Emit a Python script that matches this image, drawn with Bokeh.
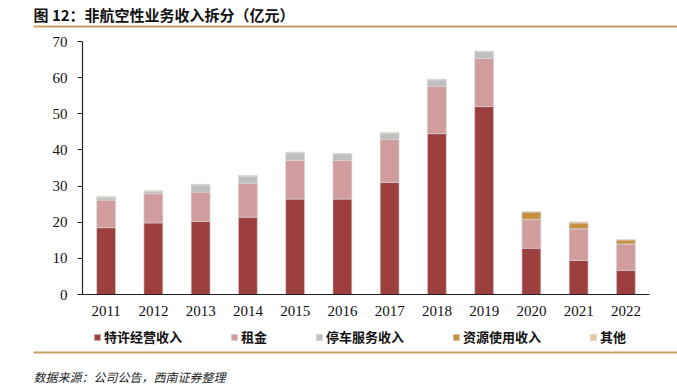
from bokeh.plotting import figure
from bokeh.models import (Range1d, Label, BoxAnnotation, Legend, LegendItem, LinearAxis,
                          FixedTicker, SingleIntervalTicker)
from bokeh.embed import file_html
from bokeh.resources import INLINE

years = ["2011", "2012", "2013", "2014", "2015", "2016", "2017", "2018", "2019", "2020", "2021", "2022"]
franchise = [18.5, 19.8, 20.2, 21.4, 26.4, 26.4, 31.0, 44.5, 52.0, 12.8, 9.4, 6.7]
rent = [7.6, 8.1, 8.1, 9.4, 10.7, 10.7, 11.9, 13.1, 13.3, 8.0, 8.8, 7.3]
parking = [0.7, 0.6, 2.0, 1.9, 2.1, 1.8, 1.7, 1.8, 1.9, 0.0, 0.0, 0.0]
resource = [0.0, 0.0, 0.0, 0.0, 0.0, 0.0, 0.0, 0.0, 0.0, 2.0, 1.6, 1.1]
other = [0.3, 0.3, 0.2, 0.2, 0.2, 0.1, 0.2, 0.2, 0.1, 0.1, 0.3, 0.1]
series_names = ["特许经营收入", "租金", "停车服务收入", "资源使用收入", "其他"]
colors = ["#9E3F3F", "#D09C9C", "#BFBFBF", "#C8903E", "#E6CBA3"]
title_text = "图 12：非航空性业务收入拆分（亿元）"
source_text = "数据来源：公司公告，西南证券整理"
y_max = 70

# ---- layout (pixels of the 677x384 canvas) ----
W, H = 677, 384
AX_L, AX_R = 82, 649      # x-axis extent
AX_B, AX_T = 294, 41      # y pixel of 0 and of y_max
RULE = "#C9A063"

n = len(years)
idx = list(range(n))
step = (AX_R - AX_L) / n
ppu = (AX_B - AX_T) / y_max

keys = ["franchise", "rent", "parking", "resource", "other"]
data = dict(idx=idx, franchise=franchise, rent=rent, parking=parking, resource=resource, other=other)

p = figure(width=W, height=H, min_border=0,
           x_range=Range1d(-0.5 - AX_L / step, n - 0.5 + (W - AX_R) / step),
           y_range=Range1d(-(H - AX_B) / ppu, y_max + AX_T / ppu),
           x_axis_type=None, y_axis_type=None,
           output_backend="svg", toolbar_location=None, tools="")
p.outline_line_color = None
p.grid.visible = False

rs = p.vbar_stack(keys, x="idx", width=0.4, source=data, color=colors,
                  line_color="#d6d6d6", line_width=0.6)

xaxis = LinearAxis(fixed_location=0, bounds=(-0.5, n - 0.5),
                   ticker=FixedTicker(ticks=idx),
                   major_label_overrides={i: y for i, y in zip(idx, years)})
yaxis = LinearAxis(fixed_location=-0.5, bounds=(0, y_max),
                   ticker=SingleIntervalTicker(interval=10, num_minor_ticks=0))
for ax in (xaxis, yaxis):
    ax.axis_line_color = "#222222"
    ax.axis_line_width = 1.2
    ax.major_label_text_font = "Liberation Serif"
    ax.major_label_text_font_size = "15px"
    ax.major_label_text_color = "#111111"
    ax.minor_tick_line_color = None
xaxis.major_tick_line_color = None
xaxis.major_tick_out = 0
xaxis.major_tick_in = 0
xaxis.major_label_standoff = 11
yaxis.major_tick_out = 5
yaxis.major_tick_in = 0
yaxis.major_tick_line_color = "#222222"
yaxis.major_label_standoff = 10
p.add_layout(xaxis, "below")
p.add_layout(yaxis, "left")

legend = Legend(items=[LegendItem(label=s, renderers=[r]) for s, r in zip(series_names, rs)],
                location=(93, H - 346), orientation="horizontal", padding=0, margin=0, spacing=48,
                border_line_color=None, background_fill_alpha=0,
                glyph_width=8, glyph_height=8, label_standoff=3,
                label_text_font="Noto Sans CJK SC", label_text_font_style="bold",
                label_text_font_size="13px", label_text_color="#111111", label_height=16)
p.add_layout(legend)

# title, source and the two rules (screen units: from the bottom-left of the canvas)
p.add_layout(Label(x=33, y=H - 14, x_units="screen", y_units="screen", text=title_text,
                   text_font="Noto Sans CJK SC", text_font_style="bold", text_font_size="15px",
                   text_color="#111111", text_baseline="middle"))
p.add_layout(Label(x=33, y=H - 376, x_units="screen", y_units="screen", text=source_text,
                   text_font="Noto Sans CJK SC", text_font_style="italic", text_font_size="12px",
                   text_color="#222222", text_baseline="middle"))
for top in (25, 351):
    p.add_layout(BoxAnnotation(left=33, right=W, top=H - top, bottom=H - top - 2,
                               left_units="screen", right_units="screen",
                               top_units="screen", bottom_units="screen",
                               fill_color=RULE, fill_alpha=1, line_color=None))

open("out.html", "w").write(file_html(p, INLINE))
